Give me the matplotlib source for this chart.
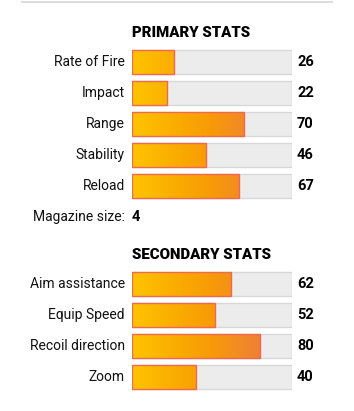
import numpy as np
import matplotlib
matplotlib.use("Agg")
import matplotlib.pyplot as plt
from matplotlib.patches import Rectangle
from matplotlib.colors import LinearSegmentedColormap
from matplotlib import transforms

# ----------- DATA -----------------------------------------------------------
primary_labels   = ["Rate of Fire", "Impact", "Range", "Stability", "Reload"]
primary_values   = [26, 22, 70, 46, 67]
magazine_label   = "Magazine size:"
magazine_value   = 4
secondary_labels = ["Aim assistance", "Equip Speed", "Recoil direction", "Zoom"]
secondary_values = [62, 52, 80, 40]
# ----------------------------------------------------------------------------

W, H = 354, 411
plt.rcParams['font.family'] = ['Roboto', 'DejaVu Sans']

fig = plt.figure(figsize=(W / 100, H / 100), dpi=100)
fig.patch.set_facecolor("white")

# thin grey rule at the very top
fig.add_artist(plt.Line2D([22 / W, 332 / W], [1 - 2.5 / H, 1 - 2.5 / H],
                          color="#dcdcdc", lw=1.4))

grad = LinearSegmentedColormap.from_list(
    "stat", ["#ffc400", "#fbae00", "#f79a08", "#f0852f", "#ec6c3c"])
ramp = np.linspace(0, 1, 256).reshape(1, -1)

row_px = 31
bar_h = 24 / row_px


def stat_block(top_px, title, labels, values, extra=None):
    n = len(labels) + (1 if extra else 0)
    ax = fig.add_axes([132 / W, 1 - (top_px + n * row_px) / H, 160 / W, n * row_px / H])
    ax.set_xlim(0, 100)
    ax.set_ylim(n - 0.5, -0.5)
    ax.axis("off")

    val_tr = transforms.offset_copy(ax.transData, fig=fig, x=5, y=0, units="dots")
    lab_tr = transforms.offset_copy(ax.transData, fig=fig, x=-7, y=0, units="dots")

    ax.text(0, -0.94, title, fontsize=10.8, fontweight="heavy", color="black",
            ha="left", va="center", clip_on=False)

    for i, (lab, v) in enumerate(zip(labels, values)):
        y0 = i - bar_h / 2
        ax.add_patch(Rectangle((0, y0), 100, bar_h, facecolor="#ececec",
                               edgecolor="#d8d8d8", lw=1.0))
        im = ax.imshow(ramp, cmap=grad, aspect="auto",
                       extent=(0, 100, i + bar_h / 2, y0), zorder=2)
        clip = Rectangle((0, y0), v, bar_h, transform=ax.transData)
        im.set_clip_path(clip)
        ax.add_patch(Rectangle((0, y0), v, bar_h, facecolor="none",
                               edgecolor="#f06850", lw=1.0, zorder=3))
        ax.text(0, i, lab, transform=lab_tr, ha="right", va="center",
                fontsize=10, color="#111111", clip_on=False)
        ax.text(100, i, str(v), transform=val_tr, ha="left", va="center",
                fontsize=10.5, fontweight="bold", color="black", clip_on=False)

    if extra:
        i = len(labels)
        ax.text(0, i, extra[0], transform=lab_tr, ha="right", va="center",
                fontsize=10, color="#111111", clip_on=False)
        ax.text(0, i, str(extra[1]), ha="left", va="center",
                fontsize=10.5, fontweight="bold", color="black", clip_on=False)
    return ax


stat_block(46.5, "PRIMARY STATS", primary_labels, primary_values,
           extra=(magazine_label, magazine_value))
stat_block(268.5, "SECONDARY STATS", secondary_labels, secondary_values)

fig.savefig("out.png", dpi=100, facecolor="white")
